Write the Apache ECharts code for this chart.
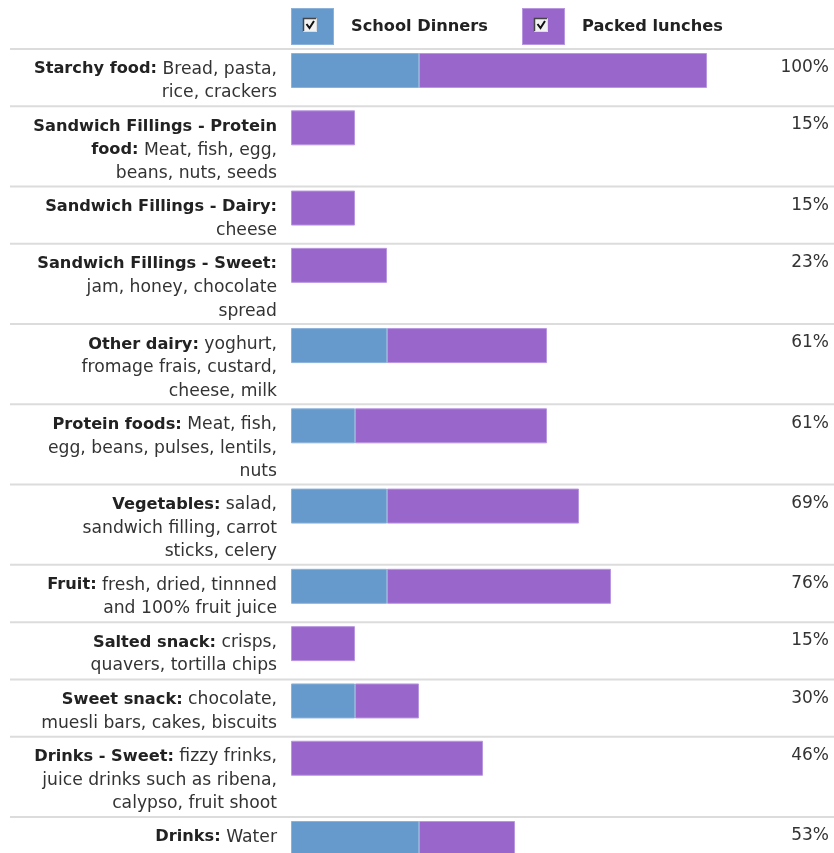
<!DOCTYPE html>
<html>
<head>
<meta charset="utf-8">
<script src="https://cdn.jsdelivr.net/npm/echarts@6/dist/echarts.min.js"></script>
<style>
  html, body { margin: 0; padding: 0; background: #fff; }
  #chart { width: 834px; height: 853px; }
</style>
</head>
<body>
<div id="chart"></div>
<script>
// Food group headings (bold) and their examples; "\n" marks where a line wraps.
const foodGroups = [
  'Starchy food:',
  'Sandwich Fillings - Protein\nfood:',
  'Sandwich Fillings - Dairy:',
  'Sandwich Fillings - Sweet:',
  'Other dairy:',
  'Protein foods:',
  'Vegetables:',
  'Fruit:',
  'Salted snack:',
  'Sweet snack:',
  'Drinks - Sweet:',
  'Drinks:'
];
const foodExamples = [
  'Bread, pasta,\nrice, crackers',
  'Meat, fish, egg,\nbeans, nuts, seeds',
  '\ncheese',
  '\njam, honey, chocolate\nspread',
  'yoghurt,\nfromage frais, custard,\ncheese, milk',
  'Meat, fish,\negg, beans, pulses, lentils,\nnuts',
  'salad,\nsandwich filling, carrot\nsticks, celery',
  'fresh, dried, tinnned\nand 100% fruit juice',
  'crisps,\nquavers, tortilla chips',
  'chocolate,\nmuesli bars, cakes, biscuits',
  'fizzy frinks,\njuice drinks such as ribena,\ncalypso, fruit shoot',
  'Water'
];
// Counts per food group for each lunch type, out of the full bar.
const schoolDinners = [4, 0, 0, 0, 3, 2, 3, 3, 0, 2, 0, 4];
const packedLunches = [9, 2, 2, 3, 5, 6, 6, 7, 2, 2, 6, 3];
const fullScale = 13;
const seriesNames = ['School Dinners', 'Packed lunches'];
const seriesColors = ['#6699CC', '#9966CC'];
const seriesEdges = ['#8cb2da', '#b996e0'];

// Build the rich-text label for each row and count its lines.
const labelTexts = [];
const labelLines = [];
foodGroups.forEach(function (group, i) {
  const head = group.split('\n');
  const rest = foodExamples[i].split('\n');
  const lines = head.slice(0, -1).map(function (s) { return '{b|' + s + '}'; });
  let joint = '{b|' + head[head.length - 1] + '}';
  if (rest[0]) joint += '{n| ' + rest[0] + '}';
  lines.push(joint);
  rest.slice(1).forEach(function (s) { lines.push('{n|' + s + '}'); });
  labelTexts.push(lines.join('\n'));
  labelLines.push(lines.length);
});

// Each row spans its line count plus half a line of padding (in y-axis units).
const rowTops = [];
let cursor = 0;
labelLines.forEach(function (n) { rowTops.push(cursor); cursor += n + 0.5; });
const yTotal = cursor;

const FONT = '"DejaVu Sans", Verdana, sans-serif';
const LINE_H = 23.5;
const BAR_OFFSET = 4;
const BAR_H = 35;

const rich = {
  b: { fontFamily: FONT, fontSize: 16.2, fontWeight: 'bold', fill: '#222', lineHeight: LINE_H },
  n: { fontFamily: FONT, fontSize: 17.2, fill: '#333', lineHeight: LINE_H }
};

function checkboxIcon(color, edge) {
  const svg = "<svg xmlns='http://www.w3.org/2000/svg' width='43' height='37'>" +
    "<rect x='0.5' y='0.5' width='42' height='36' fill='" + color + "' stroke='" + edge + "'/>" +
    "<rect x='12' y='10' width='14' height='14' fill='#f2f2f2'/>" +
    "<path d='M12.5 23.5 V10.5 H25.5' stroke='#444' stroke-width='1.5' fill='none'/>" +
    "<path d='M25.5 10.5 V23.5 H12.5' stroke='#ddd' stroke-width='1' fill='none'/>" +
    "<path d='M15.5 16 L18.5 20 L23 13' stroke='#111' stroke-width='2' fill='none'/>" +
    "</svg>";
  return 'image://data:image/svg+xml;charset=utf-8,' + encodeURIComponent(svg);
}

function segment(params, api) {
  const rowTop = api.value(0);
  const a = api.coord([api.value(1), rowTop]);
  const b = api.coord([api.value(2), rowTop]);
  const w = b[0] - a[0];
  if (w <= 0) return { type: 'group', children: [] };
  const k = params.seriesIndex - 1;
  return {
    type: 'rect',
    shape: { x: a[0] + 0.5, y: a[1] + BAR_OFFSET + 0.5, width: w - 1, height: BAR_H - 1 },
    style: { fill: seriesColors[k], stroke: seriesEdges[k], lineWidth: 1 }
  };
}

function rowDecor(params, api) {
  const i = api.value(2);
  const p = api.coord([0, api.value(0)]);
  const w = api.getWidth();
  const pct = Math.floor(api.value(1) / fullScale * 100) + '%';
  return {
    type: 'group',
    children: [
      { type: 'line', shape: { x1: 10, y1: p[1], x2: w, y2: p[1] },
        style: { stroke: '#dcdcdc', lineWidth: 2 } },
      { type: 'text', style: {
          x: p[0] - 14, y: p[1] + 8.5, text: labelTexts[i], rich: rich,
          align: 'right', verticalAlign: 'top',
          font: '17px ' + FONT, lineHeight: LINE_H } },
      { type: 'text', style: {
          x: w - 5, y: p[1] + 7, text: pct,
          align: 'right', verticalAlign: 'top',
          fontFamily: FONT, fontSize: 17, fill: '#333', lineHeight: LINE_H } }
    ]
  };
}

const chart = echarts.init(document.getElementById('chart'), null, { renderer: 'canvas' });

const pxPerUnit = 768 / 33.5;
chart.setOption({
  animation: false,
  backgroundColor: '#fff',
  legend: seriesNames.map(function (name, k) {
    return {
      data: [{ name: name, icon: checkboxIcon(seriesColors[k], seriesEdges[k]) }],
      left: k === 0 ? 291 : 522,
      top: 8,
      padding: 0,
      itemWidth: 43,
      itemHeight: 37,
      selectedMode: false,
      textStyle: { fontFamily: FONT, fontSize: 16.2, fontWeight: 'bold', color: '#222', padding: [0, 0, 0, 12] }
    };
  }),
  grid: { left: 291, width: 416, top: 49, height: yTotal * pxPerUnit, containLabel: false },
  xAxis: { type: 'value', min: 0, max: fullScale, show: false },
  yAxis: { type: 'value', min: 0, max: yTotal, inverse: true, show: false },
  series: [
    {
      name: 'rows',
      type: 'custom',
      silent: true,
      renderItem: rowDecor,
      encode: { x: 1, y: 0 },
      data: rowTops.map(function (t, i) { return [t, schoolDinners[i] + packedLunches[i], i]; })
    },
    {
      name: seriesNames[0],
      type: 'custom',
      itemStyle: { color: seriesColors[0] },
      renderItem: segment,
      encode: { x: [1, 2], y: 0 },
      data: rowTops.map(function (t, i) { return [t, 0, schoolDinners[i]]; })
    },
    {
      name: seriesNames[1],
      type: 'custom',
      itemStyle: { color: seriesColors[1] },
      renderItem: segment,
      encode: { x: [1, 2], y: 0 },
      data: rowTops.map(function (t, i) { return [t, schoolDinners[i], schoolDinners[i] + packedLunches[i]]; })
    }
  ]
});
</script>
</body>
</html>
